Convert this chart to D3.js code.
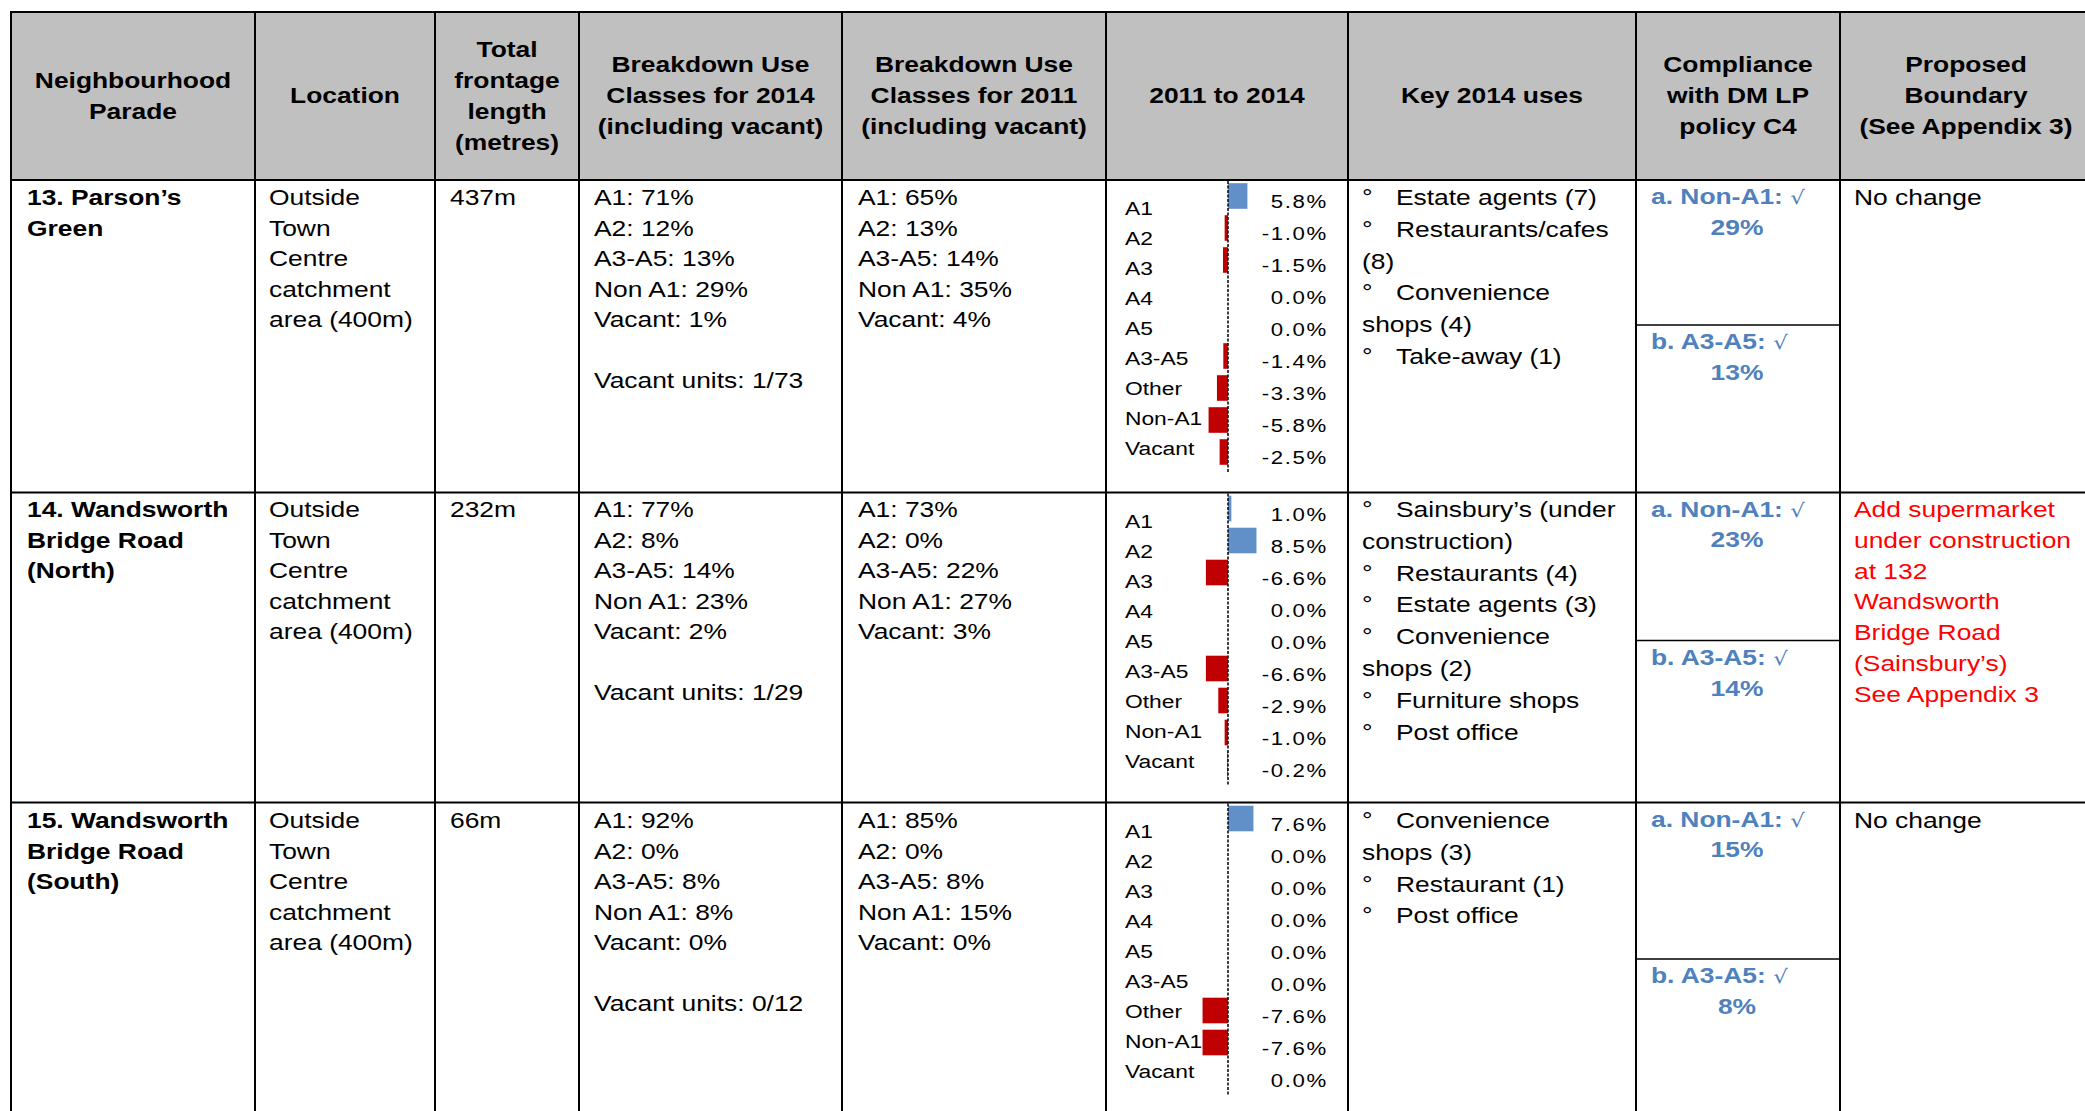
<!DOCTYPE html>
<html>
<head>
<meta charset="utf-8">
<script src="https://cdn.jsdelivr.net/npm/d3@7"></script>
<style>
  body { margin: 0; background: #fff; }
  svg { display: block; font-family: "Liberation Sans", Arial, sans-serif; }
</style>
</head>
<body>
<svg id="chart" width="2085" height="1111"></svg>
<script>
const categories = ["A1", "A2", "A3", "A4", "A5", "A3-A5", "Other", "Non-A1", "Vacant"];
const change13 = [5.8, -1.0, -1.5, 0.0, 0.0, -1.4, -3.3, -5.8, -2.5];
const change14 = [1.0, 8.5, -6.6, 0.0, 0.0, -6.6, -2.9, -1.0, -0.2];
const change15 = [7.6, 0.0, 0.0, 0.0, 0.0, 0.0, -7.6, -7.6, 0.0];

const headers = [
	["Neighbourhood", "Parade"],
	["Location"],
	["Total", "frontage", "length", "(metres)"],
	["Breakdown Use", "Classes for 2014", "(including vacant)"],
	["Breakdown Use", "Classes for 2011", "(including vacant)"],
	["2011 to 2014"],
	["Key 2014 uses"],
	["Compliance", "with DM LP", "policy C4"],
	["Proposed", "Boundary", "(See Appendix 3)"]
];

const parades = [
	["13. Parson’s", "Green"],
	["14. Wandsworth", "Bridge Road", "(North)"],
	["15. Wandsworth", "Bridge Road", "(South)"]
];
const locations = ["Outside", "Town", "Centre", "catchment", "area (400m)"];
const frontage = ["437m", "232m", "66m"];
const uses2014 = [
	["A1: 71%", "A2: 12%", "A3-A5: 13%", "Non A1: 29%", "Vacant: 1%", "", "Vacant units: 1/73"],
	["A1: 77%", "A2: 8%", "A3-A5: 14%", "Non A1: 23%", "Vacant: 2%", "", "Vacant units: 1/29"],
	["A1: 92%", "A2: 0%", "A3-A5: 8%", "Non A1: 8%", "Vacant: 0%", "", "Vacant units: 0/12"]
];
const uses2011 = [
	["A1: 65%", "A2: 13%", "A3-A5: 14%", "Non A1: 35%", "Vacant: 4%"],
	["A1: 73%", "A2: 0%", "A3-A5: 22%", "Non A1: 27%", "Vacant: 3%"],
	["A1: 85%", "A2: 0%", "A3-A5: 8%", "Non A1: 15%", "Vacant: 0%"]
];
// "\n" marca onde o texto quebra na célula
const keyUses = [
	["Estate agents (7)", "Restaurants/cafes\n(8)", "Convenience\nshops (4)", "Take-away (1)"],
	["Sainsbury’s (under\nconstruction)", "Restaurants (4)", "Estate agents (3)", "Convenience\nshops (2)", "Furniture shops", "Post office"],
	["Convenience\nshops (3)", "Restaurant (1)", "Post office"]
];
const nonA1 = ["29%", "23%", "15%"];
const a3a5 = ["13%", "14%", "8%"];
const proposed = [
	["No change"],
	["Add supermarket", "under construction", "at 132", "Wandsworth", "Bridge Road", "(Sainsbury’s)", "See Appendix 3"],
	["No change"]
];
const changes = [change13, change14, change15];

// layout
const SX = 1.2; // o texto do original está esticado na horizontal
const colX = [11, 255, 435, 579, 842, 1106, 1348, 1636, 1840, 2092];
const rowY = [12, 180, 492.5, 802.5, 1130];
const splitY = [325, 640.5, 959];
const firstBase = [205, 517, 828];
const lineH = 30.5;
const blue = "#4f81bd";

const svg = d3.select("#chart");

function txt(g, x, y, s, opts = {}) {
	return g.append("text")
		.attr("transform", `translate(${x},${y}) scale(${opts.sx || SX},1)`)
		.attr("text-anchor", opts.anchor || "start")
		.attr("font-size", opts.size || 22)
		.attr("font-weight", opts.bold ? "bold" : null)
		.attr("fill", opts.fill || "#000")
		.attr("letter-spacing", opts.ls || null)
		.text(s);
}

// cabeçalho
svg.append("rect")
	.attr("x", colX[0]).attr("y", rowY[0])
	.attr("width", colX[9] - colX[0]).attr("height", rowY[1] - rowY[0])
	.attr("fill", "#c0c0c0");

const head = svg.append("g");
headers.forEach((lines, c) => {
	const cx = (colX[c] + colX[c + 1]) / 2;
	lines.forEach((s, i) => {
		txt(head, cx, 103 + (i - (lines.length - 1) / 2) * 31, s, { anchor: "middle", bold: true });
	});
});

// hífen simples no sinal negativo, como no original
const fmt = d3.formatLocale({ decimal: ".", thousands: ",", grouping: [3], currency: ["", ""], minus: "-" }).format(".1f");

// corpo
const body = svg.append("g");
for (let r = 0; r < 3; r++) {
	const top = rowY[r + 1];
	const b0 = firstBase[r];

	parades[r].forEach((s, i) => txt(body, 27, b0 + i * lineH, s, { bold: true }));
	locations.forEach((s, i) => txt(body, 269, b0 + i * lineH, s));
	txt(body, 450, b0, frontage[r]);
	uses2014[r].forEach((s, i) => txt(body, 594, b0 + i * lineH, s));
	uses2011[r].forEach((s, i) => txt(body, 858, b0 + i * lineH, s));

	// usos principais, com marcador
	let k = 0;
	keyUses[r].forEach(item => {
		item.split("\n").forEach((s, j) => {
			const y = b0 + k * 31.8;
			if (j === 0) {
				txt(body, 1362, y, "°");
				txt(body, 1396, y, s);
			} else {
				txt(body, 1362, y, s);
			}
			k++;
		});
	});

	// conformidade
	const ta = txt(body, 1651, top + 24, "a. Non-A1: ", { bold: true, fill: blue });
	ta.append("tspan").attr("font-weight", "normal").attr("font-family", "DejaVu Sans").attr("font-size", 19).text("√");
	txt(body, 1737, top + 54.5, nonA1[r], { bold: true, fill: blue, anchor: "middle" });
	const tb = txt(body, 1651, splitY[r] + 24, "b. A3-A5: ", { bold: true, fill: blue });
	tb.append("tspan").attr("font-weight", "normal").attr("font-family", "DejaVu Sans").attr("font-size", 19).text("√");
	txt(body, 1737, splitY[r] + 55, a3a5[r], { bold: true, fill: blue, anchor: "middle" });

	proposed[r].forEach((s, i) => txt(body, 1854, b0 + i * 30.8, s, { fill: r === 1 ? "#ff0000" : "#000" }));

	// mini gráfico de barras 2011 a 2014
	const data = categories.map((c, i) => ({ cat: c, v: changes[r][i] }));
	const x = d3.scaleLinear().domain([-10, 10]).range([1228 - 33.5, 1228 + 33.5]);
	const y = d3.scaleBand().domain(categories).range([top, top + 288]).paddingInner(0.2).paddingOuter(0.1);
	const yLab = d3.scalePoint().domain(categories).range([top + 35, top + 35 + 240]);
	const g = svg.append("g");

	g.selectAll("rect.bar").data(data).join("rect")
		.attr("class", "bar")
		.attr("x", d => x(Math.min(0, d.v)))
		.attr("y", d => y(d.cat))
		.attr("width", d => Math.abs(x(d.v) - x(0)))
		.attr("height", y.bandwidth())
		.attr("fill", d => d.v >= 0 ? "#6190c8" : "#c00000");

	g.append("line")
		.attr("x1", x(0)).attr("x2", x(0))
		.attr("y1", top + 1).attr("y2", top + 293)
		.attr("stroke", "#000").attr("stroke-width", 1.5)
		.attr("stroke-dasharray", "3,1.5");

	data.forEach(d => {
		txt(g, 1125, yLab(d.cat), d.cat, { size: 19, sx: 1.2 });
		txt(g, 1328, y(d.cat) + y.bandwidth() - 0.5, fmt(d.v) + "%", { size: 18.5, anchor: "end", ls: 1.4 });
	});
}

// linhas da tabela
const grid = svg.append("g").attr("stroke", "#000");
rowY.slice(0, 4).forEach(yy => {
	grid.append("line").attr("x1", colX[0] - 1).attr("x2", colX[9]).attr("y1", yy).attr("y2", yy).attr("stroke-width", 2);
});
colX.forEach(xx => {
	grid.append("line").attr("x1", xx).attr("x2", xx).attr("y1", rowY[0] - 1).attr("y2", rowY[4]).attr("stroke-width", 2);
});
splitY.forEach(yy => {
	grid.append("line").attr("x1", colX[7]).attr("x2", colX[8]).attr("y1", yy).attr("y2", yy).attr("stroke-width", 1.6);
});
</script>
</body>
</html>
